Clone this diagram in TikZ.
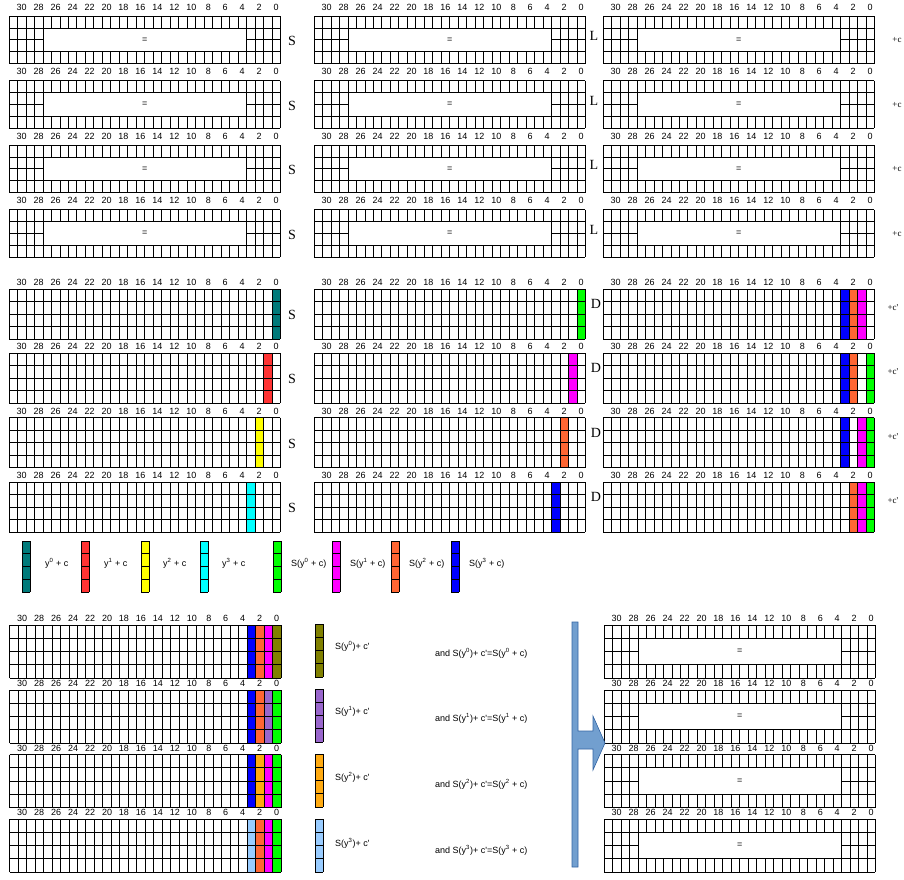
\documentclass[tikz,border=0pt]{standalone}
\usepackage{fontspec}
\setmainfont{Liberation Serif}
\setsansfont{Liberation Sans}
\usepackage{tikz}
\usetikzlibrary{positioning}
\definecolor{tealcol}{RGB}{0,122,122}
\definecolor{redcol}{RGB}{255,51,51}
\definecolor{yelcol}{RGB}{255,255,0}
\definecolor{cyancol}{RGB}{0,255,255}
\definecolor{grncol}{RGB}{0,255,0}
\definecolor{magcol}{RGB}{255,0,255}
\definecolor{orgcol}{RGB}{255,102,51}
\definecolor{blucol}{RGB}{0,0,255}
\definecolor{olivecol}{RGB}{128,128,0}
\definecolor{purcol}{RGB}{153,102,204}
\definecolor{ambcol}{RGB}{255,170,17}
\definecolor{lblucol}{RGB}{153,204,255}
\definecolor{arrowfill}{RGB}{114,159,207}
\definecolor{arrowline}{RGB}{52,101,164}
\tikzset{
  bitlab/.style={font=\sffamily\fontsize{9}{9}\selectfont,inner sep=0pt},
  cellline/.style={line width=0.7pt,black},
  opname/.style={font=\fontsize{14}{14}\selectfont,inner sep=0pt},
  addc/.style={font=\fontsize{9}{9}\selectfont,inner sep=0pt},
  legtext/.style={font=\sffamily\fontsize{9}{9}\selectfont,anchor=west,inner sep=0pt},
  bigarrow/.style={fill=arrowfill,draw=arrowline,line width=0.6pt}
}
\newcommand{\colw}{8.48}
% register with the middle part hidden behind "="
\newcommand{\eqgrid}[5]{%
  \begin{scope}[shift={(#2,#3)}]
    \foreach \bt in {0,2,...,30}
      \node[bitlab] (#1-b\bt) at ({(31.5-\bt)*\colw},-#5) {\bt};
    \foreach \i in {0,...,32} {
      \draw[cellline] ({\i*\colw},0) -- ({\i*\colw},#4);
      \draw[cellline] ({\i*\colw},{3*#4}) -- ({\i*\colw},{4*#4});
    }
    \foreach \i in {0,1,2,3,4,28,29,30,31,32}
      \draw[cellline] ({\i*\colw},#4) -- ({\i*\colw},{3*#4});
    \foreach \j in {0,1,3,4}
      \draw[cellline] (0,{\j*#4}) -- ({32*\colw},{\j*#4});
    \draw[cellline] (0,{2*#4}) -- ({4*\colw},{2*#4});
    \draw[cellline] ({28*\colw},{2*#4}) -- ({32*\colw},{2*#4});
    \node[bitlab] (#1-eq) at ({16*\colw},{2*#4}) {=};
  \end{scope}}
% full register, some bit columns filled
\newcommand{\colgrid}[6]{%
  \begin{scope}[shift={(#2,#3)}]
    \foreach \bt/\fc in {#6}
      \fill[\fc] ({(31-\bt)*\colw},0) rectangle ({(32-\bt)*\colw},{4*#4});
    \foreach \bt in {0,2,...,30}
      \node[bitlab] (#1-b\bt) at ({(31.5-\bt)*\colw},-#5) {\bt};
    \foreach \i in {0,...,32}
      \draw[cellline] ({\i*\colw},0) -- ({\i*\colw},{4*#4});
    \foreach \j in {0,...,4}
      \draw[cellline] (0,{\j*#4}) -- ({32*\colw},{\j*#4});
  \end{scope}}
% single coloured column
\newcommand{\colbar}[5]{%
  \begin{scope}[shift={(#2,#3)}]
    \fill[#5] (0,0) rectangle (\colw,{4*#4});
    \foreach \j in {0,...,4}
      \draw[cellline] (0,{\j*#4}) -- (\colw,{\j*#4});
    \draw[cellline] (0,0) -- (0,{4*#4}) (\colw,0) -- (\colw,{4*#4});
    \coordinate (#1) at ({0.5*\colw},{2*#4});
  \end{scope}}

\begin{document}
\begin{tikzpicture}[x=1pt,y=-1pt]
  \useasboundingbox (0,0) rectangle (904,879);
  % top block
  \foreach \r/\yy in {1/16,2/80.5,3/145,4/209.5} {
    \eqgrid{tl\r}{9}{\yy}{11.9}{9}
    \eqgrid{tm\r}{314}{\yy}{11.9}{9}
    \eqgrid{tr\r}{603}{\yy}{11.9}{9}
    \node[opname] (tS\r) at (292,\yy+25) {S};
    \node[opname] (tL\r) at (594,\yy+20) {L};
    \node[addc] (tc\r) at (897,\yy+24) {+c};
  }
  % middle block
  \colgrid{ml1}{9}{289}{12.5}{6.5}{0/tealcol}
  \colgrid{mm1}{314}{289}{12.5}{6.5}{0/grncol}
  \colgrid{mr1}{603}{289}{12.5}{6.5}{3/blucol,2/orgcol,1/magcol}
  \colgrid{ml2}{9}{353}{12.5}{6.5}{1/redcol}
  \colgrid{mm2}{314}{353}{12.5}{6.5}{1/magcol}
  \colgrid{mr2}{603}{353}{12.5}{6.5}{3/blucol,2/orgcol,0/grncol}
  \colgrid{ml3}{9}{417.5}{12.5}{6.5}{2/yelcol}
  \colgrid{mm3}{314}{417.5}{12.5}{6.5}{2/orgcol}
  \colgrid{mr3}{603}{417.5}{12.5}{6.5}{3/blucol,1/magcol,0/grncol}
  \colgrid{ml4}{9}{482}{12.5}{6.5}{3/cyancol}
  \colgrid{mm4}{314}{482}{12.5}{6.5}{3/blucol}
  \colgrid{mr4}{603}{482}{12.5}{6.5}{2/orgcol,1/magcol,0/grncol}
  \foreach \r/\yy in {1/289,2/353,3/417.5,4/482} {
    \node[opname] (mS\r) at (292,\yy+26) {S};
    \node[opname] (mD\r) at (596,\yy+15) {D};
    \node[addc] (mc\r) at (893,\yy+19) {+c\textquotesingle};
  }
  % legend
  \colbar{lg0}{22}{541}{12.75}{tealcol}
  \colbar{lg1}{81}{541}{12.75}{redcol}
  \colbar{lg2}{141}{541}{12.75}{yelcol}
  \colbar{lg3}{200}{541}{12.75}{cyancol}
  \colbar{lgs0}{273}{541}{12.75}{grncol}
  \colbar{lgs1}{332}{541}{12.75}{magcol}
  \colbar{lgs2}{391}{541}{12.75}{orgcol}
  \colbar{lgs3}{451}{541}{12.75}{blucol}
  \node[legtext] (lt0) at (45,563) {y\textsuperscript{0} + c};
  \node[legtext] (lt1) at (104,563) {y\textsuperscript{1} + c};
  \node[legtext] (lt2) at (163,563) {y\textsuperscript{2} + c};
  \node[legtext] (lt3) at (222,563) {y\textsuperscript{3} + c};
  \node[legtext] (lts0) at (291,563) {S(y\textsuperscript{0} + c)};
  \node[legtext] (lts1) at (350,563) {S(y\textsuperscript{1} + c)};
  \node[legtext] (lts2) at (409,563) {S(y\textsuperscript{2} + c)};
  \node[legtext] (lts3) at (469,563) {S(y\textsuperscript{3} + c)};
  % bottom block
  \colgrid{bl1}{9.5}{625}{13.25}{6.5}{3/blucol,2/orgcol,1/magcol,0/olivecol}
  \colgrid{bl2}{9.5}{690}{13.25}{6.5}{3/blucol,2/orgcol,1/purcol,0/grncol}
  \colgrid{bl3}{9.5}{754.5}{13.25}{6.5}{3/blucol,2/ambcol,1/magcol,0/grncol}
  \colgrid{bl4}{9.5}{819}{13.25}{6.5}{3/lblucol,2/orgcol,1/magcol,0/grncol}
  \colbar{sb0}{315}{624}{13.25}{olivecol}
  \colbar{sb1}{315}{689}{13.25}{purcol}
  \colbar{sb2}{315}{754}{13.25}{ambcol}
  \colbar{sb3}{315}{819}{13.25}{lblucol}
  \foreach \r/\yy/\fy in {0/625/646,1/690/711,2/754.5/777,3/819/843} {
    \eqgrid{br\r}{604}{\yy}{13.25}{6.5}
    \node[legtext] (sv\r) at (335,\fy)
      {S(y\textsuperscript{\r})+ c\textquotesingle};
    \node[legtext] (eq\r) at (435,\fy+7)
      {and S(y\textsuperscript{\r})+ c\textquotesingle=S(y\textsuperscript{\r} + c)};
  }
  \draw[bigarrow] (572,622) -- (578,622) -- (578,731) -- (593,731) -- (593,716)
    -- (605,743) -- (593,770) -- (593,749) -- (578,749) -- (578,867)
    -- (572,867) -- cycle;
\end{tikzpicture}
\end{document}
